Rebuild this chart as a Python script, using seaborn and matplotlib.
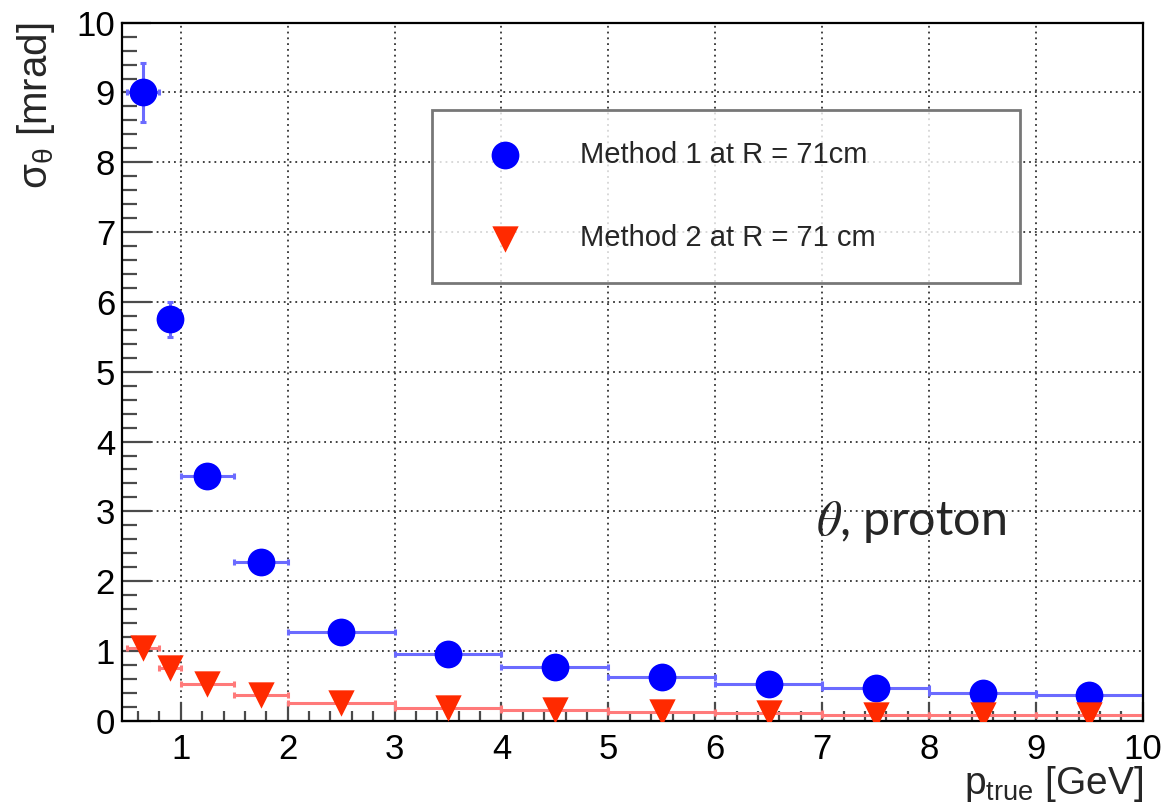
import numpy as np
import pandas as pd
import matplotlib
matplotlib.use("Agg")
import matplotlib.pyplot as plt
from matplotlib.ticker import MultipleLocator
import seaborn as sns

# bins in p_true [GeV]
p_center = [0.65, 0.9, 1.25, 1.75, 2.5, 3.5, 4.5, 5.5, 6.5, 7.5, 8.5, 9.5]
p_halfwidth = [0.15, 0.1, 0.25, 0.25, 0.5, 0.5, 0.5, 0.5, 0.5, 0.5, 0.5, 0.5]

# sigma_theta [mrad]
sigma_m1 = [9.0, 5.75, 3.5, 2.27, 1.27, 0.95, 0.77, 0.63, 0.53, 0.47, 0.40, 0.37]
sigma_m1_err = [0.42, 0.25, 0.08, 0.06, 0.03, 0.02, 0.02, 0.02, 0.01, 0.01, 0.01, 0.01]
sigma_m2 = [1.04, 0.76, 0.53, 0.37, 0.26, 0.19, 0.16, 0.13, 0.11, 0.09, 0.08, 0.08]
sigma_m2_err = [0.05, 0.04, 0.02, 0.02, 0.01, 0.01, 0.01, 0.01, 0.01, 0.01, 0.01, 0.01]

label_m1 = "Method 1 at R = 71cm"
label_m2 = "Method 2 at R = 71 cm"

df1 = pd.DataFrame({"p": p_center, "sigma": sigma_m1})
df2 = pd.DataFrame({"p": p_center, "sigma": sigma_m2})

sns.set_style("white")
plt.rcParams["font.family"] = ["Liberation Sans", "DejaVu Sans"]

fig, ax = plt.subplots(figsize=(11.65, 8.09), dpi=100)
fig.subplots_adjust(left=0.1047, right=0.981, top=0.972, bottom=0.109)

blue = "#0000ff"
red = "#ff2a00"

# error bars (drawn under markers)
ax.errorbar(p_center, sigma_m1, xerr=p_halfwidth, yerr=sigma_m1_err, fmt="none",
            ecolor="#6b6bff", elinewidth=2.2, capsize=2.5, capthick=2.2, zorder=2)
ax.errorbar(p_center, sigma_m2, xerr=p_halfwidth, yerr=sigma_m2_err, fmt="none",
            ecolor="#ff7a7a", elinewidth=2.2, capsize=2.5, capthick=2.2, zorder=2)

sns.scatterplot(data=df1, x="p", y="sigma", marker="o", s=400, color=blue,
                linewidth=0, ax=ax, label=label_m1, zorder=3)
sns.scatterplot(data=df2, x="p", y="sigma", marker="v", s=360, color=red,
                linewidth=0, ax=ax, label=label_m2, zorder=3)

ax.set_xlim(0.45, 10)
ax.set_ylim(0, 10)
ax.xaxis.set_major_locator(MultipleLocator(1))
ax.xaxis.set_minor_locator(MultipleLocator(0.2))
ax.yaxis.set_major_locator(MultipleLocator(1))
ax.yaxis.set_minor_locator(MultipleLocator(0.2))

ax.grid(True, which="major", color="#333333", linestyle=(0, (1, 2.2)), linewidth=1.3, zorder=0)
ax.set_axisbelow(True)

ax.tick_params(axis="both", which="both", direction="in", colors="#4a4a4a", width=1.6,
               left=True, bottom=True, top=False, right=False)
ax.tick_params(axis="y", which="major", length=21, pad=5, labelsize=25, labelcolor="black")
ax.tick_params(axis="y", which="minor", length=11)
ax.tick_params(axis="x", which="major", length=14, pad=9, labelsize=25, labelcolor="black")
ax.tick_params(axis="x", which="minor", length=7)

for s in ax.spines.values():
    s.set_color("black")
    s.set_linewidth(1.6)
    s.set_visible(True)

ax.set_ylabel(r"$\mathregular{\sigma_{\theta}}$ [mrad]", fontsize=29, loc="top", labelpad=14)
ax.set_xlabel(r"$\mathregular{p_{true}}$ [GeV]", fontsize=28, loc="right", labelpad=-2)

ax.text(6.94, 2.66, r"$\theta$, proton", fontsize=35, family=["Lato", "DejaVu Sans"],
        math_fontfamily="stix", ha="left", va="baseline")

leg = ax.legend(loc="lower left", bbox_to_anchor=(0.304, 0.627, 0.576, 0.248), mode="expand",
                fontsize=21, frameon=True, fancybox=False, borderpad=1.05, handlelength=2.85,
                handletextpad=1.15, labelspacing=1.9, borderaxespad=0, markerscale=1.0)
leg.get_frame().set_edgecolor("#555555")
leg.get_frame().set_linewidth(2)

fig.savefig("out.png", dpi=100)
